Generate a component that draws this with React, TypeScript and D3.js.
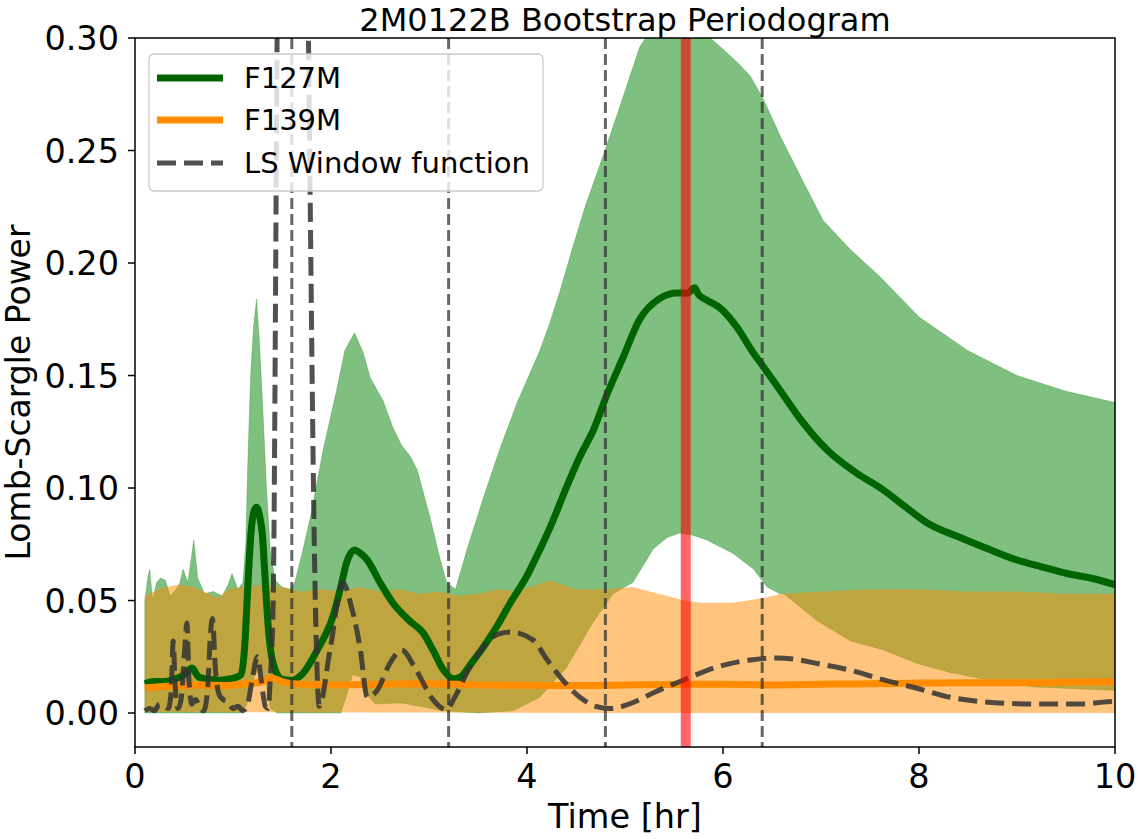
import React from 'react';
import * as d3 from 'd3';

const W = 1138;
const H = 839;
const margin = { top: 38, right: 23, bottom: 92, left: 135 };

const xTicks = [0, 2, 4, 6, 8, 10];
const yTicks = [0, 0.05, 0.1, 0.15, 0.2, 0.25, 0.3];

// observation-spacing markers and the best period
const windowMarks = [1.6, 3.2, 4.8, 6.4];
const bestPeriod = 5.62;

// F127M bootstrap band (upper / lower edge), [period, power]
const f127Upper = [
  [0.1, 0.05], [0.13, 0.06], [0.15, 0.064], [0.18, 0.05], [0.22, 0.058], [0.26, 0.06],
  [0.31, 0.059], [0.36, 0.052], [0.42, 0.055], [0.46, 0.058], [0.49, 0.064], [0.54, 0.058],
  [0.6, 0.077], [0.64, 0.06], [0.71, 0.053], [0.8, 0.054], [0.89, 0.052], [0.95, 0.057],
  [0.99, 0.062], [1.05, 0.055], [1.1, 0.058], [1.13, 0.075], [1.15, 0.11], [1.18, 0.15],
  [1.21, 0.172], [1.24, 0.184], [1.27, 0.165], [1.3, 0.139], [1.34, 0.102], [1.38, 0.072],
  [1.43, 0.059], [1.5, 0.056], [1.58, 0.055], [1.63, 0.058], [1.7, 0.07], [1.79, 0.087],
  [1.92, 0.117], [2.06, 0.144], [2.14, 0.161], [2.24, 0.169], [2.33, 0.16], [2.4, 0.149],
  [2.53, 0.139], [2.63, 0.127], [2.72, 0.119], [2.81, 0.114], [2.88, 0.108], [3.01, 0.087],
  [3.11, 0.069], [3.18, 0.058], [3.27, 0.055], [3.39, 0.073], [3.55, 0.095], [3.72, 0.117],
  [3.9, 0.138], [4.13, 0.161], [4.23, 0.173], [4.34, 0.188], [4.46, 0.206], [4.6, 0.226],
  [4.78, 0.248], [4.92, 0.266], [5.05, 0.283], [5.15, 0.296], [5.3, 0.306], [5.55, 0.312],
  [5.75, 0.308], [5.87, 0.3], [6.0, 0.295], [6.15, 0.289], [6.28, 0.283], [6.41, 0.273],
  [6.6, 0.255], [6.82, 0.236], [7.02, 0.219], [7.3, 0.206], [7.6, 0.194], [8.0, 0.176],
  [8.5, 0.161], [9.0, 0.15], [9.5, 0.143], [10.0, 0.138],
];
const f127Lower = [
  [0.1, 0.0], [1.1, 0.0], [1.15, 0.005], [1.22, 0.017], [1.28, 0.019], [1.34, 0.012],
  [1.38, 0.002], [1.45, 0.0], [2.1, 0.0], [2.16, 0.008], [2.22, 0.017], [2.3, 0.016],
  [2.37, 0.008], [2.45, 0.004], [2.72, 0.0045], [3.14, 0.001], [3.5, 0.0], [3.86, 0.001],
  [4.13, 0.007], [4.4, 0.02], [4.67, 0.04], [4.88, 0.053], [5.08, 0.058], [5.29, 0.073],
  [5.43, 0.078], [5.56, 0.08], [5.69, 0.079], [5.83, 0.077], [6.1, 0.071], [6.31, 0.064],
  [6.45, 0.056], [6.58, 0.053], [6.62, 0.053], [6.96, 0.041], [7.3, 0.032], [7.64, 0.028],
  [7.98, 0.022], [8.32, 0.018], [8.66, 0.015], [9.17, 0.0116], [10.0, 0.01],
];

// F139M bootstrap band
const f139Upper = [
  [0.1, 0.052], [0.2, 0.054], [0.3, 0.056], [0.45, 0.057], [0.6, 0.056], [0.75, 0.053],
  [0.85, 0.051], [0.95, 0.055], [1.1, 0.056], [1.3, 0.057], [1.5, 0.056], [1.7, 0.054],
  [1.9, 0.055], [2.1, 0.054], [2.3, 0.056], [2.5, 0.054], [2.7, 0.055], [2.9, 0.053],
  [3.1, 0.054], [3.3, 0.052], [3.5, 0.053], [3.7, 0.055], [3.9, 0.054], [4.1, 0.057],
  [4.23, 0.059], [4.5, 0.055], [4.82, 0.055], [5.08, 0.056], [5.25, 0.054], [5.43, 0.052],
  [5.6, 0.05], [5.77, 0.049], [6.1, 0.049], [6.4, 0.051], [6.6, 0.053], [7.0, 0.054],
  [7.5, 0.055], [8.0, 0.055], [8.5, 0.054], [9.0, 0.054], [9.5, 0.053], [10.0, 0.053],
];
const f139Lower = [[0.1, 0.0005], [5.0, 0.0], [10.0, 0.0]];

// median periodograms
const f127Line = [
  [0.1, 0.013], [0.2, 0.014], [0.3, 0.014], [0.4, 0.015], [0.5, 0.017], [0.58, 0.02],
  [0.65, 0.016], [0.75, 0.015], [0.85, 0.0145], [0.95, 0.015], [1.04, 0.016], [1.08, 0.017],
  [1.12, 0.03], [1.15, 0.055], [1.18, 0.078], [1.21, 0.089], [1.24, 0.0915], [1.27, 0.088],
  [1.3, 0.079], [1.33, 0.058], [1.36, 0.038], [1.41, 0.022], [1.5, 0.015], [1.6, 0.0145],
  [1.7, 0.017], [1.86, 0.028], [2.02, 0.043], [2.1, 0.056], [2.16, 0.067], [2.24, 0.0725],
  [2.3, 0.071], [2.37, 0.068], [2.5, 0.058], [2.63, 0.049], [2.8, 0.041], [2.94, 0.0356],
  [3.04, 0.028], [3.15, 0.019], [3.25, 0.0152], [3.32, 0.016], [3.43, 0.022], [3.55, 0.029],
  [3.7, 0.039], [3.83, 0.049], [4.0, 0.061], [4.13, 0.0725], [4.26, 0.085], [4.39, 0.099],
  [4.54, 0.114], [4.68, 0.126], [4.82, 0.142], [4.98, 0.158], [5.15, 0.175], [5.36, 0.1844],
  [5.53, 0.1867], [5.64, 0.1867], [5.71, 0.189], [5.75, 0.186], [5.83, 0.1836], [5.97, 0.18],
  [6.14, 0.1716], [6.31, 0.16], [6.41, 0.154], [6.58, 0.1436], [6.8, 0.13], [7.06, 0.117],
  [7.35, 0.107], [7.64, 0.099], [7.85, 0.092], [8.08, 0.0846], [8.42, 0.078], [8.7, 0.073],
  [9.0, 0.068], [9.25, 0.065], [9.51, 0.062], [9.75, 0.06], [10.0, 0.057],
];
const f139Line = [
  [0.1, 0.0112], [0.3, 0.0118], [0.5, 0.0122], [0.7, 0.0125], [0.9, 0.0122], [1.1, 0.0128],
  [1.3, 0.014], [1.4, 0.0155], [1.5, 0.014], [1.7, 0.0128], [2.0, 0.0125], [2.5, 0.0128],
  [3.0, 0.013], [3.5, 0.0125], [4.0, 0.0123], [4.5, 0.0122], [5.0, 0.0125], [5.5, 0.0127],
  [6.0, 0.0128], [6.5, 0.0125], [7.0, 0.0128], [7.5, 0.013], [8.0, 0.0133], [8.5, 0.0135],
  [9.0, 0.0135], [9.5, 0.0137], [10.0, 0.0138],
];

// LS window function
const windowFn = [
  [0.1, 0.001], [0.15, 0.002], [0.2, 0.001], [0.25, 0.004], [0.3, 0.003], [0.34, 0.002],
  [0.37, 0.01], [0.39, 0.032], [0.41, 0.012], [0.44, 0.002], [0.47, 0.006], [0.51, 0.03],
  [0.53, 0.04], [0.55, 0.015], [0.58, 0.004], [0.62, 0.006], [0.66, 0.002], [0.7, 0.001],
  [0.74, 0.01], [0.77, 0.035], [0.79, 0.042], [0.82, 0.02], [0.86, 0.008], [0.9, 0.006],
  [0.95, 0.005], [1.0, 0.002], [1.05, 0.003], [1.1, 0.001], [1.15, 0.004], [1.2, 0.016],
  [1.25, 0.025], [1.29, 0.014], [1.33, 0.003], [1.36, 0.002], [1.38, 0.015], [1.41, 0.05],
  [1.45, 0.3], [1.5, 0.6], [1.6, 0.8], [1.7, 0.6], [1.77, 0.3], [1.84, 0.05], [1.88, 0.003],
  [1.99, 0.028], [2.12, 0.058], [2.21, 0.047], [2.3, 0.028], [2.37, 0.007], [2.47, 0.01],
  [2.6, 0.022], [2.72, 0.028], [2.87, 0.019], [3.04, 0.006], [3.18, 0.0015], [3.25, 0.006],
  [3.4, 0.019], [3.55, 0.029], [3.7, 0.035], [3.83, 0.036], [4.06, 0.0325], [4.2, 0.024],
  [4.34, 0.016], [4.54, 0.007], [4.7, 0.003], [4.85, 0.002], [4.95, 0.0027], [5.1, 0.005],
  [5.29, 0.009], [5.6, 0.0147], [5.94, 0.0205], [6.28, 0.0236], [6.55, 0.0245], [6.75, 0.0238],
  [6.96, 0.022], [7.3, 0.019], [7.64, 0.0147], [7.98, 0.011], [8.32, 0.007], [8.66, 0.005],
  [9.17, 0.004], [9.67, 0.004], [9.92, 0.005], [10.0, 0.0052],
];

const FONT = 'DejaVu Sans';

export default function App() {
  const iw = W - margin.left - margin.right;
  const ih = H - margin.top - margin.bottom;

  const x = d3.scaleLinear().domain([0, 10]).range([0, iw]);
  const y = d3.scaleLinear().domain([-0.0151, 0.3]).range([ih, 0]);

  const smooth = d3.line<number[]>()
    .x(d => x(d[0]))
    .y(d => y(d[1]))
    .curve(d3.curveMonotoneX);

  const straight = d3.line<number[]>()
    .x(d => x(d[0]))
    .y(d => y(d[1]));

  const band = (upper: number[][], lower: number[][]) =>
    straight(upper.concat(lower.slice().reverse())) + 'Z';

  return (
    <svg width={W} height={H} style={{ display: 'block' }}>
      <style>{`body{margin:0}`}</style>
      <defs>
        <clipPath id="plot">
          <rect x={0} y={0} width={iw} height={ih} />
        </clipPath>
      </defs>
      <text x={margin.left + iw / 2} y={31} textAnchor="middle"
        fontFamily={FONT} fontSize={32}>2M0122B Bootstrap Periodogram</text>

      <g transform={`translate(${margin.left},${margin.top})`}>
        <g clipPath="url(#plot)">
          <path d={band(f127Upper, f127Lower)} fill="green" fillOpacity={0.5}
            stroke="green" strokeOpacity={0.25} strokeWidth={1} />
          <path d={band(f139Upper, f139Lower)} fill="darkorange" fillOpacity={0.5} />
          <path d={smooth(f127Line) || ''} fill="none" stroke="darkgreen" strokeWidth={7} />
          <path d={smooth(f139Line) || ''} fill="none" stroke="darkorange" strokeWidth={7} />
          <path d={smooth(windowFn) || ''} fill="none" stroke="#333" strokeOpacity={0.85}
            strokeWidth={5} strokeDasharray="19,8" />
          {windowMarks.map(m => (
            <line key={m} x1={x(m)} x2={x(m)} y1={0} y2={ih} stroke="#333"
              strokeOpacity={0.75} strokeWidth={3} strokeDasharray="11,5" />
          ))}
          <line x1={x(bestPeriod)} x2={x(bestPeriod)} y1={0} y2={ih}
            stroke="red" strokeOpacity={0.6} strokeWidth={10} />
        </g>

        <rect x={0} y={0} width={iw} height={ih} fill="none" stroke="black" strokeWidth={1.5} />

        {xTicks.map(t => (
          <g key={t} transform={`translate(${x(t)},${ih})`}>
            <line y2={7} stroke="black" strokeWidth={1.5} />
            <text y={41} textAnchor="middle" fontFamily={FONT} fontSize={33.5}>{t}</text>
          </g>
        ))}
        {yTicks.map(t => (
          <g key={t} transform={`translate(0,${y(t)})`}>
            <line x2={-7} stroke="black" strokeWidth={1.5} />
            <text x={-16} dy="0.36em" textAnchor="end" fontFamily={FONT} fontSize={33.5}>
              {d3.format('.2f')(t)}
            </text>
          </g>
        ))}
        <text x={iw / 2} y={ih + 81} textAnchor="middle" fontFamily={FONT} fontSize={33.5}>
          Time [hr]
        </text>
        <text transform={`translate(${-105},${ih / 2}) rotate(-90)`} textAnchor="middle"
          fontFamily={FONT} fontSize={33}>Lomb-Scargle Power</text>

        <g transform="translate(14,16)">
          <rect x={0} y={0} width={394} height={137} rx={5} fill="white" fillOpacity={0.8}
            stroke="#cccccc" strokeWidth={1.3} />
          <line x1={8} x2={74} y1={24} y2={24} stroke="darkgreen" strokeWidth={7} />
          <text x={95} y={34} fontFamily={FONT} fontSize={29}>F127M</text>
          <line x1={8} x2={74} y1={66} y2={66} stroke="darkorange" strokeWidth={7} />
          <text x={95} y={76} fontFamily={FONT} fontSize={29}>F139M</text>
          <line x1={8} x2={74} y1={109} y2={109} stroke="#333" strokeOpacity={0.85}
            strokeWidth={5} strokeDasharray="19,8" />
          <text x={95} y={119} fontFamily={FONT} fontSize={29}>LS Window function</text>
        </g>
      </g>
    </svg>
  );
}
